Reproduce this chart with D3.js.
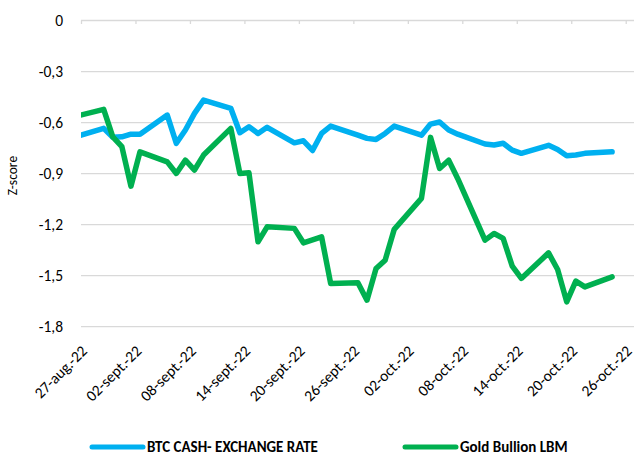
<!DOCTYPE html>
<html>
<head>
<meta charset="utf-8">
<script src="https://cdn.jsdelivr.net/npm/d3@7"></script>
<style>
  body { margin: 0; background: #fff; }
  svg { display: block; font-family: Calibri, Carlito, Lato, sans-serif; }
</style>
</head>
<body>
<div id="chart"></div>
<script>
// 圖表尺寸
const width = 634;
const height = 457;

// 交易日 (工作日)
const dates = [
  "2022-08-26",
  "2022-08-29", "2022-08-30", "2022-08-31", "2022-09-01", "2022-09-02",
  "2022-09-05", "2022-09-06", "2022-09-07", "2022-09-08", "2022-09-09",
  "2022-09-12", "2022-09-13", "2022-09-14", "2022-09-15", "2022-09-16",
  "2022-09-19", "2022-09-20", "2022-09-21", "2022-09-22", "2022-09-23",
  "2022-09-26", "2022-09-27", "2022-09-28", "2022-09-29", "2022-09-30",
  "2022-10-03", "2022-10-04", "2022-10-05", "2022-10-06", "2022-10-07",
  "2022-10-10", "2022-10-11", "2022-10-12", "2022-10-13", "2022-10-14",
  "2022-10-17", "2022-10-18", "2022-10-19", "2022-10-20", "2022-10-21",
  "2022-10-24"
];

const btcCash = [
  -0.681,
  -0.634, -0.687, -0.684, -0.668, -0.668,
  -0.556, -0.722, -0.644, -0.546, -0.468,
  -0.516, -0.660, -0.625, -0.664, -0.628,
  -0.719, -0.707, -0.764, -0.664, -0.621,
  -0.674, -0.693, -0.699, -0.664, -0.621,
  -0.674, -0.609, -0.597, -0.644, -0.668,
  -0.726, -0.732, -0.722, -0.762, -0.781,
  -0.734, -0.758, -0.795, -0.791, -0.781,
  -0.772
];

const goldLbm = [
  -0.562,
  -0.522, -0.684, -0.742, -0.974, -0.772,
  -0.831, -0.899, -0.821, -0.879, -0.791,
  -0.634, -0.899, -0.895, -1.301, -1.213,
  -1.222, -1.307, -1.290, -1.272, -1.546,
  -1.542, -1.644, -1.458, -1.409, -1.228,
  -1.046, -0.687, -0.870, -0.821, -0.930,
  -1.291, -1.252, -1.281, -1.444, -1.516,
  -1.366, -1.464, -1.654, -1.532, -1.566,
  -1.507
];

const seriesNames = ["BTC CASH- EXCHANGE RATE", "Gold Bullion LBM"];
const seriesColors = ["#00B0F0", "#00B050"];

const yTicks = [0, -0.3, -0.6, -0.9, -1.2, -1.5, -1.8];
const xTickLabels = [
  "27-aug.-22", "02-sept.-22", "08-sept.-22", "14-sept.-22", "20-sept.-22",
  "26-sept.-22", "02-oct.-22", "08-oct.-22", "14-oct.-22", "20-oct.-22", "26-oct.-22"
];

// 繪圖區
const plot = { left: 81, right: 634.8, top: 20.5, bottom: 326.7 };

const parse = d3.timeParse("%Y-%m-%d");
const axisStart = parse("2022-08-27");
const axisEnd = parse("2022-10-27");

const x = d3.scaleTime().domain([axisStart, axisEnd]).range([plot.left, plot.right]);
const y = d3.scaleLinear().domain([0, -1.8]).range([plot.top, plot.bottom]);

// 資料點放在每天的中間 (Excel 日期軸)
const points = dates.map(d => d3.timeHour.offset(parse(d), 12));
const series = [btcCash, goldLbm].map((vals, i) => ({
  name: seriesNames[i],
  color: seriesColors[i],
  values: vals.map((v, j) => ({ date: points[j], value: v }))
}));

const tickDates = xTickLabels.map((_, i) => d3.timeDay.offset(axisStart, i * 6));

const locale = d3.formatLocale({ decimal: ",", thousands: ".", grouping: [3], currency: ["", "€"], minus: "-" });
const fmt = locale.format(".1f");

let svg = d3.select("#chart")
  .append("svg")
  .attr("width", width)
  .attr("height", height);

svg.append("defs").append("clipPath")
  .attr("id", "plot-clip")
  .append("rect")
  .attr("x", plot.left)
  .attr("y", 0)
  .attr("width", plot.right - plot.left)
  .attr("height", height);

// 橫向格線
svg.append("g")
  .selectAll("line")
  .data(yTicks)
  .join("line")
  .attr("x1", plot.left)
  .attr("x2", width)
  .attr("y1", d => y(d))
  .attr("y2", d => y(d))
  .style("stroke", "#d9d9d9")
  .style("stroke-width", 1.3);

// y 軸文字
svg.append("g")
  .selectAll("text")
  .data(yTicks)
  .join("text")
  .attr("x", 63)
  .attr("y", d => y(d))
  .attr("dy", "0.36em")
  .attr("text-anchor", "end")
  .style("font-size", "15.5px")
  .style("fill", "#000")
  .text(d => d === 0 ? "0" : fmt(d));

// y 軸標題
svg.append("text")
  .attr("transform", `translate(17, ${(plot.top + plot.bottom) / 2 + 2}) rotate(-90)`)
  .attr("text-anchor", "middle")
  .style("font-size", "13.5px")
  .style("fill", "#000")
  .text("Z-score");

// x 軸 (在 0 的位置) + 刻度
const xAxis = d3.axisBottom(x)
  .tickValues(tickDates)
  .tickSize(3.5)
  .tickFormat("");

const gx = svg.append("g")
  .attr("transform", `translate(0, ${y(0)})`)
  .call(xAxis);
gx.select(".domain").remove();
gx.selectAll(".tick line").style("stroke", "#d9d9d9").style("stroke-width", 1.3);

// x 軸文字放在下方
svg.append("g")
  .selectAll("text")
  .data(tickDates)
  .join("text")
  .attr("transform", d => `translate(${x(d) + 7}, 352) rotate(-45)`)
  .attr("text-anchor", "end")
  .style("font-size", "15.5px")
  .style("fill", "#000")
  .text((d, i) => xTickLabels[i]);

// 線
const line = d3.line()
  .x(d => x(d.date))
  .y(d => y(d.value));

svg.append("g")
  .attr("clip-path", "url(#plot-clip)")
  .selectAll("path")
  .data(series)
  .join("path")
  .attr("d", d => line(d.values))
  .style("fill", "none")
  .style("stroke", d => d.color)
  .style("stroke-width", 5.5)
  .style("stroke-linejoin", "round")
  .style("stroke-linecap", "round");

// 圖例
const legendX = [92, 405];
const legend = svg.append("g")
  .selectAll("g")
  .data(series)
  .join("g")
  .attr("transform", (d, i) => `translate(${legendX[i]}, 447)`);

legend.append("line")
  .attr("x1", 0)
  .attr("x2", 51)
  .style("stroke", d => d.color)
  .style("stroke-width", 5)
  .style("stroke-linecap", "round");

legend.append("text")
  .attr("x", 55)
  .attr("dy", "0.36em")
  .style("font-size", "15px")
  .style("font-weight", "bold")
  .style("fill", "#000")
  .text(d => d.name);
</script>
</body>
</html>
